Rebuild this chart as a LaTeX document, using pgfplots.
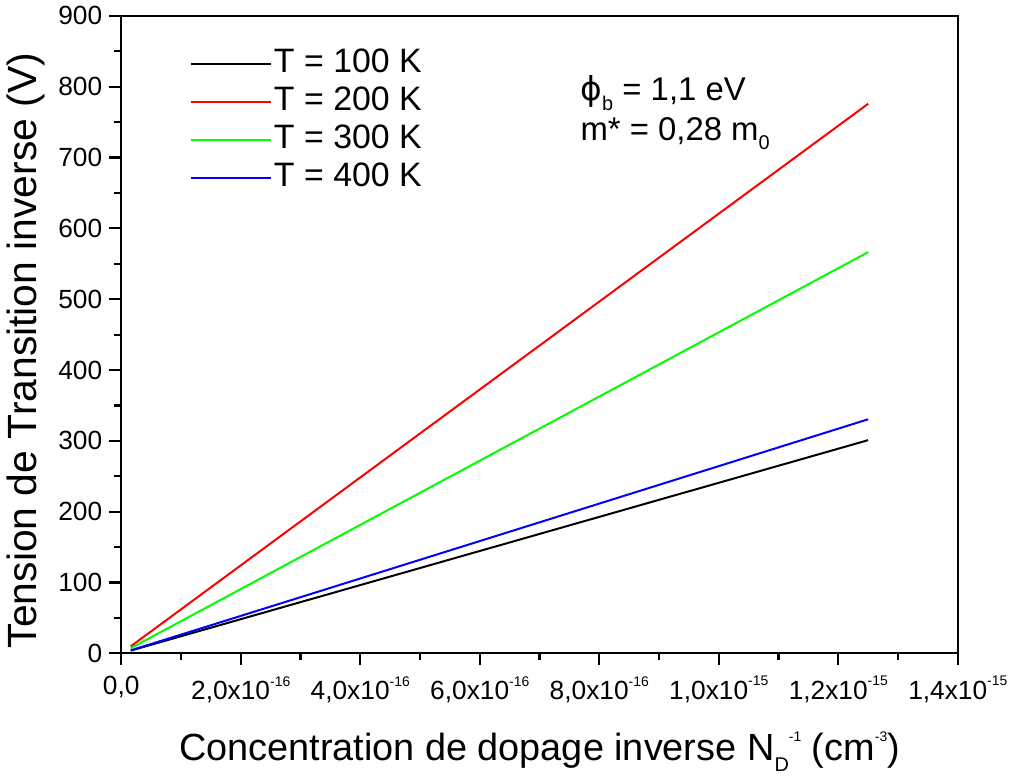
\documentclass[border=0pt]{standalone}
\usepackage{pgfplots}
\pgfplotsset{compat=1.18}
\usepackage{fontspec}
\setmainfont{Liberation Sans}
\newfontfamily\dejavu{DejaVu Sans}
\definecolor{tred}{RGB}{255,0,0}
\definecolor{tgreen}{RGB}{0,255,0}
\definecolor{tblue}{RGB}{0,0,255}
\newcommand{\ex}[1]{\raisebox{0.95ex}{\fontsize{7}{8}\selectfont #1}}
\newcommand{\sub}[1]{\raisebox{-0.55ex}{\fontsize{10}{10}\selectfont #1}}

\begin{document}
\begin{tikzpicture}
\begin{axis}[
  width=420pt, height=320pt, scale only axis,
  xmin=0, xmax=1.4e-15, ymin=0, ymax=900,
  scaled x ticks=false,
  axis line style={line width=1.1pt},
  every tick/.style={line width=1.1pt, black},
  tick align=outside, tick pos=left,
  major tick length=6pt, minor tick length=3.5pt,
  xtick={0,2e-16,4e-16,6e-16,8e-16,1e-15,1.2e-15,1.4e-15},
  xticklabels={{0,0},{2,0x10\ex{-16}},{4,0x10\ex{-16}},
    {6,0x10\ex{-16}},{8,0x10\ex{-16}},{1,0x10\ex{-15}},
    {1,2x10\ex{-15}},{1,4x10\ex{-15}}},
  ytick={0,100,...,900},
  minor x tick num=1, minor y tick num=1,
  /pgf/number format/assume math mode=true,
  ticklabel style={font=\fontsize{13.2}{15}\selectfont},
  xticklabel style={yshift=-2pt},
  xlabel={Concentration de dopage inverse N\sub{D}\ex{-1} (cm\ex{-3})},
  ylabel={Tension de Transition inverse (V)},
  xlabel style={font=\fontsize{19}{21}\selectfont, yshift=-8pt},
  ylabel style={font=\fontsize{20.5}{23}\selectfont, at={(ticklabel cs:0.475)}},
  legend style={draw=none, fill=none, at={(rel axis cs:0.075,0.96)}, anchor=north west,
    font=\fontsize{17}{19}\selectfont, row sep=0.5pt,
    nodes={text height=12.5pt, text depth=4pt, inner sep=1pt}},
  legend cell align=left,
  legend image code/.code={\draw[#1] (0pt,0pt) -- (40pt,0pt);},
]
\addplot[black, line width=1pt] coordinates {(1.6e-17,3.9) (6.0e-16,144.5) (1.25e-15,301)};
\addplot[tred, line width=1pt] coordinates {(1.6e-17,9.9) (6.0e-16,372.5) (1.25e-15,776)};
\addplot[tgreen, line width=1pt] coordinates {(1.6e-17,7.3) (6.0e-16,272) (1.25e-15,566.5)};
\addplot[tblue, line width=1pt] coordinates {(1.6e-17,4.2) (6.0e-16,158.5) (1.25e-15,330.5)};
\legend{T = 100 K, T = 200 K, T = 300 K, T = 400 K}
\node[anchor=west, font=\fontsize{16.5}{18}\selectfont, inner sep=0pt] at (axis cs:7.68e-16,791)
  {{\dejavu ϕ}\sub{b} = 1,1 eV};
\node[anchor=west, font=\fontsize{16.5}{18}\selectfont, inner sep=0pt] at (axis cs:7.68e-16,734)
  {m* = 0,28 m\sub{0}};
\end{axis}
\end{tikzpicture}
\end{document}
